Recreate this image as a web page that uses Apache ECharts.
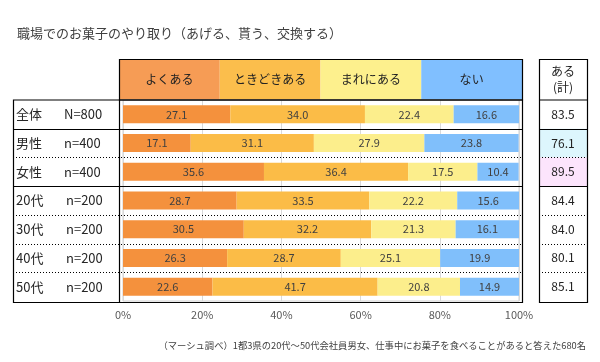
<!DOCTYPE html>
<html><head><meta charset="utf-8">
<script src="https://cdn.jsdelivr.net/npm/echarts@6/dist/echarts.min.js"></script>
<style>html,body{margin:0;padding:0;background:#fff}#c{width:600px;height:362px}</style>
</head><body><div id="c"></div>
<script>
const categories = ['全体','男性','女性','20代','30代','40代','50代'];
const sampleSizes = ['N=800','n=400','n=400','n=200','n=200','n=200','n=200'];
const seriesNames = ['よくある','ときどきある','まれにある','ない'];
const often = [27.1,17.1,35.6,28.7,30.5,26.3,22.6];
const sometimes = [34.0,31.1,36.4,33.5,32.2,28.7,41.7];
const rarely = [22.4,27.9,17.5,22.2,21.3,25.1,20.8];
const never = [16.6,23.8,10.4,15.6,16.1,19.9,14.9];
const aruTotal = ['83.5','76.1','89.5','84.4','84.0','80.1','85.1'];
const rowSeparators = ['solid','dotted','solid','dotted','dotted','dotted'];
const titleText = '職場でのお菓子のやり取り（あげる、貰う、交換する）';
const noteText = '（マーシュ調べ）1都3県の20代～50代会社員男女、仕事中にお菓子を食べることがあると答えた680名';

const FONT = '"Noto Sans CJK JP","Noto Sans",sans-serif';
const barColors = ['#F4913D','#FBBC47','#FCEE8C','#80BFFB'];
const headColors = ['#F69C55','#FBBE4C','#FDF08D','#80BFFF'];
const valueArrays = [often, sometimes, rarely, never];

const G = {l:123, r:519, t:100, b:301};
const chart = echarts.init(document.getElementById('c'), null, {renderer:'canvas'});

const series = seriesNames.map((n,i)=>({
  name:n, type:'bar', stack:'total', yAxisIndex:0, barWidth:18,
  data: valueArrays[i],
  itemStyle:{color:barColors[i]},
  label:{show:true, position:'inside', color:'#404040', fontSize:11, fontFamily:FONT,
    formatter:p=>p.value.toFixed(1)}
}));

chart.setOption({
  animation:false,
  textStyle:{fontFamily:FONT},
  title:{text:titleText, left:12, top:22, textStyle:{fontSize:13, fontWeight:'normal', color:'#404040', fontFamily:FONT}},
  grid:{left:G.l, right:600-G.r, top:G.t, bottom:362-G.b, show:true, borderColor:'#D0D0D0', borderWidth:1},
  xAxis:{type:'value', min:0, max:100, interval:20,
    axisLine:{show:false}, axisTick:{show:false},
    splitLine:{lineStyle:{color:'#D9D9D9'}},
    axisLabel:{formatter:'{value}%', color:'#595959', fontSize:11, margin:8, fontFamily:FONT}},
  yAxis:[{type:'category', data:categories, inverse:true,
    axisLine:{show:false}, axisTick:{show:false},
    axisLabel:{margin:G.l-16, align:'left', fontFamily:FONT,
      formatter:(v,i)=> (i<3? `{a|${v}}`:`{c|${v}}`)+`{b|${sampleSizes[i]}}`,
      rich:{a:{width:48, fontSize:13, color:'#262626', fontFamily:FONT},
            c:{width:50, fontSize:13, color:'#262626', fontFamily:FONT},
            b:{fontSize:13, color:'#262626', fontFamily:FONT}}}},
   {type:'category', data:aruTotal, inverse:true, position:'right',
    axisLine:{show:false}, axisTick:{show:false},
    axisLabel:{margin:44, align:'center', fontSize:12, color:'#222', fontFamily:FONT}}],
  series: series
});

// decorations: table frames built from grid geometry
const rowH = (G.b - G.t)/categories.length;
const TL = 13, TR = 522, HT = 59, HB = G.t - 0.5;
const RL = 539, RR = 587;
const g = [];
const hw = (TR - 119)/seriesNames.length;
seriesNames.forEach((n,i)=>{
  g.push({type:'rect', z:-10, shape:{x:119+hw*i, y:HT, width:hw, height:HB-HT}, style:{fill:headColors[i]}});
  g.push({type:'text', z:50, style:{text:n, x:119+hw*i+hw/2, y:(HT+HB)/2, textAlign:'center', textVerticalAlign:'middle', fontSize:12, fill:'#222', fontFamily:FONT}});
});
// right table backgrounds
g.push({type:'rect', z:-10, shape:{x:RL, y:G.t+rowH, width:RR-RL, height:rowH}, style:{fill:'#DDF6FD'}});
g.push({type:'rect', z:-10, shape:{x:RL, y:G.t+rowH*2, width:RR-RL, height:rowH}, style:{fill:'#FCE4FC'}});
g.push({type:'text', z:50, style:{text:'ある\n(計)', x:(RL+RR)/2, y:(HT+HB)/2, textAlign:'center', textVerticalAlign:'middle', fontSize:12, lineHeight:16, fill:'#222', fontFamily:FONT}});
const black = {stroke:'#000', lineWidth:1.2};
// header frame
g.push({type:'rect', z:60, shape:{x:119.5, y:HT+0.5, width:TR-119, height:HB-HT}, style:Object.assign({fill:'none'},black)});
// body frame
g.push({type:'rect', z:60, shape:{x:TL+0.5, y:HB+0.5, width:TR-TL, height:G.b+1-HB}, style:Object.assign({fill:'none'},black)});
g.push({type:'line', z:60, shape:{x1:119.5, y1:HB, x2:119.5, y2:G.b+1}, style:black});
// right table frame
g.push({type:'rect', z:60, shape:{x:RL+0.5, y:HT+0.5, width:RR-RL, height:G.b+1-HT}, style:Object.assign({fill:'none'},black)});
g.push({type:'line', z:60, shape:{x1:RL, y1:HB+0.5, x2:RR, y2:HB+0.5}, style:black});
rowSeparators.forEach((s,i)=>{
  const y = Math.round(G.t + rowH*(i+1)) + 0.5;
  const st = s==='solid' ? {stroke:'#000', lineWidth:1.2} : {stroke:'#000', lineWidth:1, lineDash:[1,2]};
  g.push({type:'line', z:60, shape:{x1:TL, y1:y, x2:TR, y2:y}, style:st});
  g.push({type:'line', z:60, shape:{x1:RL, y1:y, x2:RR, y2:y}, style:st});
});
g.push({type:'text', z:50, style:{text:noteText, x:586, y:345, textAlign:'right', textVerticalAlign:'middle', fontSize:9.3, fill:'#404040', fontFamily:FONT}});
chart.setOption({graphic:{elements:g}});
</script></body></html>
